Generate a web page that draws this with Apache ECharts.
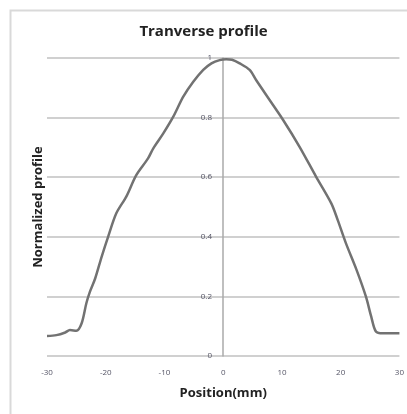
<!DOCTYPE html>
<html>
<head>
<meta charset="utf-8">
<script src="https://cdn.jsdelivr.net/npm/echarts@6/dist/echarts.min.js"></script>
<style>html,body{margin:0;padding:0;background:#fff}#c{width:407px;height:414px}</style>
</head>
<body>
<div id="c"></div>
<script>
const positions = [-30, -28.4, -26.9, -26.1, -25.0, -24.1, -23.3, -22.7, -21.8, -20.7, -19.6, -18.2, -16.5, -14.8, -12.8, -11.9, -10.2, -8.5, -6.8, -5.1, -3.4, -2.0, -0.6, 0.5, 1.5, 2.8, 4.5, 5.6, 7.9, 10.2, 13.0, 15.8, 18.4, 19.5, 20.9, 22.7, 24.3, 25.2, 26.0, 27.2, 30];
const profile = [0.067, 0.070, 0.079, 0.087, 0.085, 0.110, 0.177, 0.215, 0.26, 0.333, 0.40, 0.479, 0.535, 0.607, 0.663, 0.697, 0.747, 0.803, 0.870, 0.920, 0.960, 0.982, 0.993, 0.996, 0.994, 0.982, 0.960, 0.926, 0.859, 0.792, 0.702, 0.602, 0.512, 0.456, 0.378, 0.289, 0.199, 0.132, 0.082, 0.076, 0.076];
const titleText = 'Tranverse profile';
const xName = 'Position(mm)';
const yName = 'Normalized profile';

const chart = echarts.init(document.getElementById('c'), null, {renderer: 'canvas'});
chart.setOption({
  animation: false,
  backgroundColor: '#fff',
  graphic: [{
    type: 'rect', left: 8, top: 8, shape: {width: 430, height: 430},
    style: {fill: 'none', stroke: '#d9d9d9', lineWidth: 2}, silent: true
  }],
  title: {
    text: titleText, left: 'center', top: 19,
    textStyle: {fontFamily: 'Open Sans', fontWeight: 'bold', fontSize: 15, color: '#222'}
  },
  grid: {left: 47, right: 7, top: 58, bottom: 58},
  xAxis: {
    type: 'value', min: -30, max: 30, interval: 10,
    name: xName, nameLocation: 'middle', nameGap: 31,
    nameTextStyle: {fontFamily: 'Open Sans', fontWeight: 'bold', fontSize: 13, color: '#222'},
    axisLine: {show: false}, axisTick: {show: false}, splitLine: {show: false},
    axisLabel: {fontFamily: 'Open Sans', fontSize: 8, color: '#556', margin: 13}
  },
  yAxis: [{
    type: 'value', min: 0, max: 1, interval: 0.2,
    axisLine: {show: true, onZero: true, lineStyle: {color: '#aaa', width: 1.5}},
    axisTick: {show: false},
    splitLine: {lineStyle: {color: '#d0d0d0', width: 2}},
    axisLabel: {fontFamily: 'Open Sans', fontSize: 8, color: '#556', margin: -165, align: 'right'}
  }, {
    type: 'value', min: 0, max: 1, position: 'left',
    name: yName, nameLocation: 'middle', nameGap: 2,
    nameTextStyle: {fontFamily: 'Open Sans', fontWeight: 'bold', fontSize: 13, color: '#222'},
    axisLine: {show: false, onZero: false}, axisTick: {show: false}, axisLabel: {show: false}, splitLine: {show: false}
  }],
  series: [{
    type: 'line', yAxisIndex: 0, smooth: 0.3, showSymbol: false,
    lineStyle: {color: '#727272', width: 2.5},
    data: positions.map((p, i) => [p, profile[i]])
  }]
});
</script>
</body>
</html>
